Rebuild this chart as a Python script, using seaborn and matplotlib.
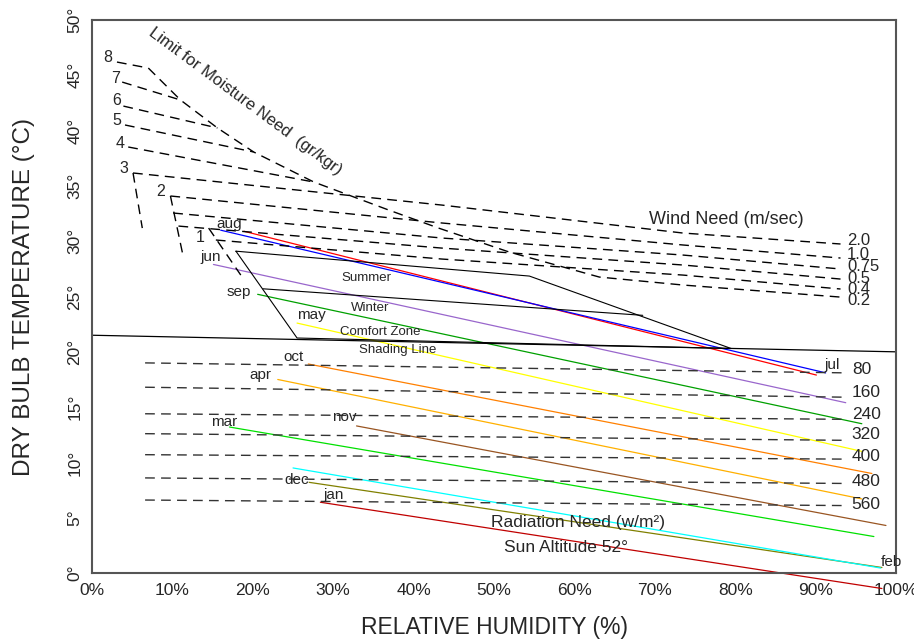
import numpy as np
import pandas as pd
import matplotlib
matplotlib.use("Agg")
import matplotlib.pyplot as plt
import seaborn as sns
from matplotlib.ticker import MultipleLocator, FuncFormatter

# Monthly climate lines (relative humidity %, dry bulb temperature °C)
month_names = ["aug", "jul", "jun", "sep", "may", "oct", "apr", "nov", "mar", "dec", "feb", "jan"]
month_rh_start = [18.9, 16.0, 15.1, 20.6, 25.5, 26.9, 23.1, 32.9, 17.1, 27.0, 25.0, 28.4]
month_t_start = [30.9, 31.0, 27.9, 25.2, 22.6, 18.9, 17.5, 13.3, 13.2, 8.2, 9.5, 6.4]
month_rh_end = [90.1, 91.25, 93.75, 95.75, 95.75, 97.0, 95.75, 98.75, 97.25, 98.25, 98.1, 98.25]
month_t_end = [17.9, 18.1, 15.4, 13.5, 11.0, 9.0, 6.7, 4.3, 3.3, 0.5, 0.45, -1.4]

# Comfort zone and shading line
comfort_rh = [17.9, 54.4, 79.5, 25.5, 17.9]
comfort_t = [29.1, 26.85, 20.3, 21.25, 29.1]
winter_rh = [21.25, 68.5]
winter_t = [25.7, 23.3]
shading_rh = [0, 100]
shading_t = [21.5, 20.0]

# Limit for moisture need
limit_rh = [7.0, 11.0, 15.6, 20.1, 27.6, 36.9, 43.1, 51.9, 63.1, 73.5, 93.1]
limit_t = [45.66, 42.77, 40.24, 38.07, 35.35, 32.82, 31.19, 29.02, 26.76, 26.04, 24.95]

# Moisture need lines (gr/kgr), ending on the limit line
moist_labels = ["8", "7", "6", "5", "4"]
moist_rh_start = [3.1, 3.75, 3.9, 4.1, 4.5]
moist_t_start = [46.2, 44.39, 42.22, 40.51, 38.52]
moist_rh_end = [7.0, 11.0, 15.6, 20.1, 27.6]
moist_t_end = [45.66, 42.77, 40.24, 38.07, 35.35]

# Wind need lines (m/sec)
wind_labels = ["2.0", "1.0", "0.75", "0.5", "0.4", "0.2"]
wind_rh = [
    [5.1, 43.5, 73.5, 93.1],
    [9.75, 43.5, 73.5, 93.1],
    [10.1, 43.5, 73.5, 93.1],
    [10.75, 43.5, 73.5, 93.1],
    [15.4, 43.5, 73.5, 93.1],
]
wind_t = [
    [36.17, 33.27, 30.74, 29.75],
    [34.09, 31.65, 29.66, 28.48],
    [32.55, 30.29, 28.75, 27.49],
    [31.37, 29.38, 27.85, 26.58],
    [30.11, 28.39, 26.94, 25.68],
]
wind_label_t = [30.1, 28.8, 27.7, 26.6, 25.6, 24.6]

# short hooks under moisture labels 3, 2, 1
hook_rh = [[5.1, 6.25], [9.75, 11.25], [14.5, 18.5]]
hook_t = [[36.17, 31.19], [34.09, 28.93], [31.19, 26.94]]
small_labels = ["3", "2", "1"]

# Radiation need lines (w/m²)
rad_labels = ["80", "160", "240", "320", "400", "480", "560"]
rad_rh = [6.6, 93.5]
rad_t_left = [19.0, 16.8, 14.4, 12.6, 10.7, 8.6, 6.6]
rad_t_right = [18.1, 15.9, 13.9, 12.0, 10.3, 8.1, 6.1]
rad_label_t = [18.4, 16.3, 14.3, 12.5, 10.5, 8.3, 6.2]

month_colors = {
    "aug": "#ff0000", "jul": "#0000ff", "jun": "#9966cc", "sep": "#00a000",
    "may": "#ffff00", "oct": "#ff8000", "apr": "#ffb000", "nov": "#995522",
    "mar": "#00e000", "dec": "#808000", "feb": "#00ffff", "jan": "#c00000",
}

sns.set_style("white")
plt.rcParams["font.family"] = ["Liberation Sans", "DejaVu Sans"]

fig = plt.figure(figsize=(9.14, 6.44), dpi=100)
ax = fig.add_axes([0.1007, 0.1102, 0.8796, 0.8587])

dash = (0, (7, 4.5))


def guide(xs, ys, color="black", lw=1.0, ls=dash):
    sns.lineplot(x=xs, y=ys, ax=ax, sort=False, estimator=None,
                 color=color, lw=lw, linestyle=ls)


# monthly lines
rows = []
for i, m in enumerate(month_names):
    rows.append({"month": m, "rh": month_rh_start[i], "t": month_t_start[i]})
    rows.append({"month": m, "rh": month_rh_end[i], "t": month_t_end[i]})
df_months = pd.DataFrame(rows)
sns.lineplot(data=df_months, x="rh", y="t", hue="month", palette=month_colors,
             hue_order=month_names, sort=False, estimator=None, lw=0.9,
             legend=False, ax=ax)
for line in ax.lines:
    line.set_clip_on(False)  # jan runs below the axis in the original

# comfort zone + shading line
guide(comfort_rh, comfort_t, ls="-", lw=0.8)
guide(winter_rh, winter_t, ls="-", lw=0.8)
guide(shading_rh, shading_t, ls="-", lw=0.9)

# moisture and wind lines
guide(limit_rh, limit_t)
for i in range(len(moist_labels)):
    guide([moist_rh_start[i], moist_rh_end[i]], [moist_t_start[i], moist_t_end[i]])
for i in range(len(wind_rh)):
    guide(wind_rh[i], wind_t[i])
for i in range(len(hook_rh)):
    guide(hook_rh[i], hook_t[i])

# radiation lines
for i in range(len(rad_labels)):
    guide(rad_rh, [rad_t_left[i], rad_t_right[i]], color="#333333")

# labels
moist_pos = [(2.0, 46.6), (2.9, 44.7), (3.1, 42.7), (3.1, 40.9), (3.5, 38.8)]
for lab, (x, y) in zip(moist_labels, moist_pos):
    ax.text(x, y, lab, fontsize=11.5, ha="center", va="center")
small_pos = [(3.9, 36.6), (8.5, 34.5), (13.5, 30.3)]
for lab, (x, y) in zip(small_labels, small_pos):
    ax.text(x, y, lab, fontsize=11.5, ha="center", va="center")

for lab, y in zip(wind_labels, wind_label_t):
    ax.text(93.9, y, lab, fontsize=12, ha="left", va="center")
for lab, y in zip(rad_labels, rad_label_t):
    ax.text(94.5, y, lab, fontsize=12.5, ha="left", va="center")

month_label_pos = {
    "aug": (17.0, 31.55), "jun": (14.75, 28.57), "sep": (18.25, 25.4),
    "may": (27.25, 23.3), "oct": (25.1, 19.5), "apr": (21.0, 17.9),
    "nov": (31.4, 14.1), "mar": (16.4, 13.7), "dec": (25.4, 8.4),
    "jan": (30.1, 7.1), "feb": (99.4, 1.0), "jul": (92.0, 18.8),
}
for m, (x, y) in month_label_pos.items():
    ax.text(x, y, m, fontsize=11, ha="center", va="center")

ax.text(34.1, 26.7, "Summer", fontsize=9.5, ha="center", va="center")
ax.text(34.6, 24.0, "Winter", fontsize=9.5, ha="center", va="center")
ax.text(35.9, 21.8, "Comfort Zone", fontsize=9.5, ha="center", va="center")
ax.text(38.0, 20.2, "Shading Line", fontsize=9.5, ha="center", va="center")
ax.text(78.9, 32.0, "Wind Need (m/sec)", fontsize=13, ha="center", va="center")
ax.text(60.4, 4.6, "Radiation Need (w/m²)", fontsize=12.5, ha="center", va="center")
ax.text(58.9, 2.35, "Sun Altitude 52°", fontsize=12.5, ha="center", va="center")
ax.text(19.1, 42.6, "Limit for Moisture Need  (gr/kgr)", fontsize=12,
        rotation=-36.6, rotation_mode="anchor", ha="center", va="center")

# axes
ax.set_xlim(0, 100)
ax.set_ylim(0, 50)
ax.xaxis.set_major_locator(MultipleLocator(10))
ax.xaxis.set_minor_locator(MultipleLocator(1))
ax.yaxis.set_major_locator(MultipleLocator(5))
ax.yaxis.set_minor_locator(MultipleLocator(1))
ax.xaxis.set_major_formatter(FuncFormatter(lambda v, p: f"{v:.0f}%"))
ax.yaxis.set_major_formatter(FuncFormatter(lambda v, p: f"{v:.0f}°"))
ax.tick_params(which="both", direction="in", color="#555555", labelsize=12.5, pad=7)
ax.tick_params(which="major", length=12, width=1.2)
ax.tick_params(which="minor", length=6, width=1.0)
ax.tick_params(axis="y", labelrotation=90)
for lbl in ax.get_yticklabels():
    lbl.set_va("center")
for s in ax.spines.values():
    s.set_color("#555555")
    s.set_linewidth(1.5)

ax.set_xlabel("RELATIVE HUMIDITY (%)", fontsize=16.5)
ax.set_ylabel("DRY BULB TEMPERATURE (°C)", fontsize=17.5)
ax.xaxis.set_label_coords(0.5, -0.078)
ax.yaxis.set_label_coords(-0.071, 0.5)

fig.savefig("out.png", dpi=100)
